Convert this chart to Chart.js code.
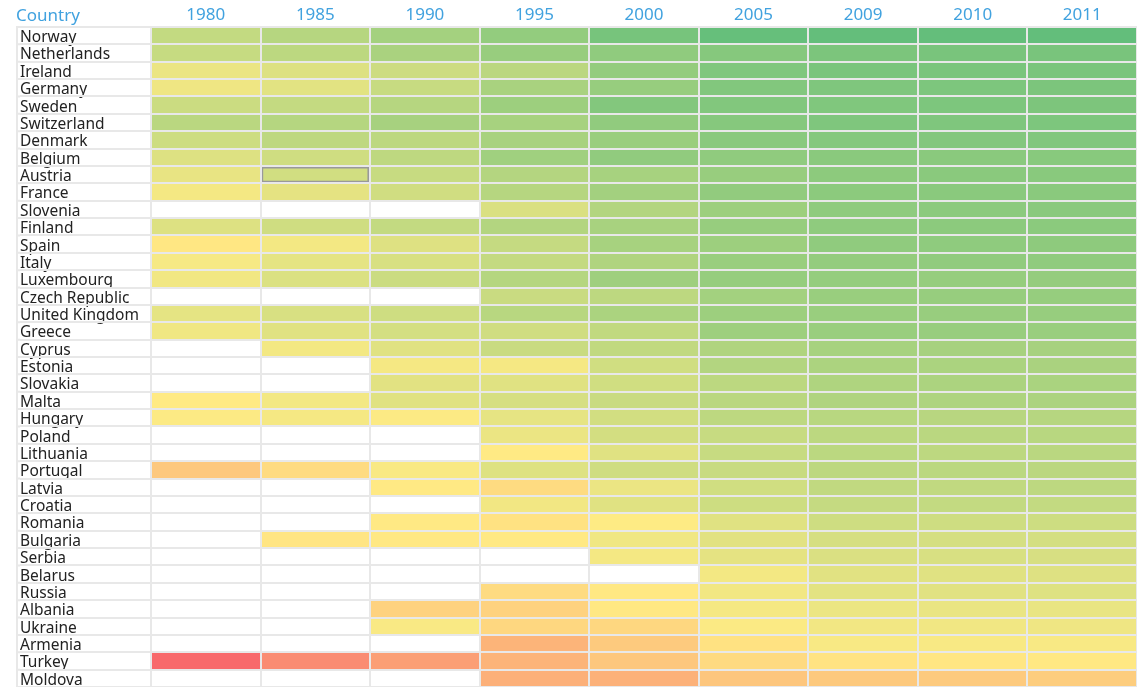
<!DOCTYPE html>
<html>
<head>
<meta charset="utf-8">
<title>HDI heatmap</title>
<script src="https://cdn.jsdelivr.net/npm/chart.js@4.4.0/dist/chart.umd.min.js"></script>
<style>
  html, body { margin: 0; padding: 0; background: #fff; }
  #wrap { width: 1137px; height: 687px; position: relative; }
</style>
</head>
<body>
<div id="wrap"><canvas id="heat"></canvas></div>
<script>
const countries = ['Norway', 'Netherlands', 'Ireland', 'Germany', 'Sweden', 'Switzerland', 'Denmark', 'Belgium',
  'Austria', 'France', 'Slovenia', 'Finland', 'Spain', 'Italy', 'Luxembourg', 'Czech Republic', 'United Kingdom',
  'Greece', 'Cyprus', 'Estonia', 'Slovakia', 'Malta', 'Hungary', 'Poland', 'Lithuania', 'Portugal', 'Latvia',
  'Croatia', 'Romania', 'Bulgaria', 'Serbia', 'Belarus', 'Russia', 'Albania', 'Ukraine', 'Armenia', 'Turkey', 'Moldova'];
const years = ['1980', '1985', '1990', '1995', '2000', '2005', '2009', '2010', '2011'];

// one array per year column, same order as countries (null = no data)
const v1980 = [0.796, 0.792, 0.735, 0.730, 0.785, 0.810, 0.781, 0.757, 0.740, 0.722, null, 0.757, 0.698, 0.718, 0.726, null, 0.744, 0.728, null, null,
  null, 0.704, 0.709, null, null, 0.639, null, null, null, null, null, null, null, null, null, null, 0.463, null];
const v1985 = [0.816, 0.807, 0.757, 0.749, 0.795, 0.818, 0.804, 0.778, 0.775, 0.745, null, 0.778, 0.723, 0.744, 0.760, null, 0.764, 0.753, 0.723, null,
  null, 0.723, 0.721, null, null, 0.675, null, null, null, 0.693, null, null, null, null, null, null, 0.528, null];
const v1990 = [0.844, 0.835, 0.782, 0.790, 0.816, 0.840, 0.806, 0.804, 0.790, 0.777, null, 0.797, 0.756, 0.764, 0.785, null, 0.780, 0.771, 0.753, 0.721,
  0.750, 0.753, 0.710, null, null, 0.714, 0.701, null, 0.702, 0.700, null, null, null, 0.658, 0.714, null, 0.563, null];
const v1995 = [0.870, 0.862, 0.809, 0.836, 0.855, 0.839, 0.837, 0.850, 0.819, 0.816, 0.761, 0.821, 0.793, 0.795, 0.818, 0.787, 0.813, 0.777, 0.787, 0.721,
  0.752, 0.767, 0.743, 0.735, 0.703, 0.755, 0.675, 0.725, 0.688, 0.701, null, null, 0.675, 0.658, 0.667, 0.603, 0.603, 0.595];
const v2000 = [0.913, 0.874, 0.869, 0.864, 0.894, 0.873, 0.859, 0.873, 0.839, 0.846, 0.821, 0.837, 0.839, 0.825, 0.851, 0.806, 0.833, 0.799, 0.800, 0.776,
  0.776, 0.788, 0.774, 0.772, 0.752, 0.778, 0.736, 0.752, 0.706, 0.728, 0.722, null, 0.700, 0.700, 0.668, 0.643, 0.638, 0.597];
const v2005 = [0.938, 0.890, 0.898, 0.895, 0.896, 0.889, 0.885, 0.874, 0.862, 0.872, 0.855, 0.863, 0.855, 0.861, 0.865, 0.845, 0.855, 0.853, 0.826, 0.821,
  0.807, 0.810, 0.805, 0.791, 0.791, 0.789, 0.776, 0.781, 0.753, 0.750, 0.745, 0.723, 0.725, 0.721, 0.711, 0.689, 0.673, 0.636];
const v2009 = [0.941, 0.905, 0.908, 0.900, 0.898, 0.900, 0.891, 0.883, 0.879, 0.880, 0.876, 0.876, 0.874, 0.869, 0.866, 0.861, 0.860, 0.861, 0.839, 0.831,
  0.827, 0.826, 0.813, 0.807, 0.808, 0.805, 0.800, 0.794, 0.779, 0.768, 0.762, 0.751, 0.747, 0.734, 0.725, 0.716, 0.690, 0.642];
const v2010 = [0.941, 0.909, 0.908, 0.903, 0.903, 0.901, 0.893, 0.884, 0.883, 0.883, 0.881, 0.880, 0.876, 0.873, 0.865, 0.863, 0.862, 0.862, 0.840, 0.833,
  0.831, 0.829, 0.814, 0.811, 0.805, 0.808, 0.800, 0.797, 0.779, 0.769, 0.764, 0.753, 0.751, 0.737, 0.726, 0.716, 0.696, 0.644];
const v2011 = [0.943, 0.910, 0.908, 0.905, 0.904, 0.903, 0.895, 0.886, 0.885, 0.884, 0.884, 0.882, 0.878, 0.874, 0.867, 0.865, 0.863, 0.861, 0.840, 0.835,
  0.834, 0.832, 0.816, 0.813, 0.810, 0.809, 0.805, 0.796, 0.781, 0.771, 0.766, 0.756, 0.755, 0.739, 0.729, 0.716, 0.699, 0.649];

const series = [v1980, v1985, v1990, v1995, v2000, v2005, v2009, v2010, v2011];

// red - yellow - green scale like a spreadsheet conditional format
const scaleLo = 0.463, scaleMid = 0.705, scaleHi = 0.943;
const red = [248, 105, 107], yellow = [255, 235, 132], green = [99, 190, 123];

function mix(a, b, t) {
  t = Math.max(0, Math.min(1, t));
  return 'rgb(' + a.map((c, i) => Math.round(c + (b[i] - c) * t)).join(',') + ')';
}

function cellColor(v) {
  if (v == null) return 'rgba(0,0,0,0)';
  if (v <= scaleMid) return mix(red, yellow, (v - scaleLo) / (scaleMid - scaleLo));
  return mix(yellow, green, (v - scaleMid) / (scaleHi - scaleMid));
}

const gridColor = '#e8e8e8';
const headBlue = '#41a2df';
const tableLeft = 16;
Chart.defaults.font.family = '"Noto Sans", "Open Sans", sans-serif';

// the selected cell in the reference has a grey outline
const selected = { year: '1985', country: 'Austria' };

const datasets = years.map((yr, j) => ({
  label: yr,
  data: series[j].map(v => v == null ? null : [j, j + 1]),
  backgroundColor: ctx => cellColor(series[j][ctx.dataIndex]),
  borderColor: '#999',
  borderWidth: ctx => (yr === selected.year && countries[ctx.dataIndex] === selected.country) ? 3 : 0,
  borderSkipped: false,
  grouped: false,
  barPercentage: 1,
  categoryPercentage: 1
}));

// left border of the table, the few px of row lines left of the labels, and the "Country" header
const headerPlugin = {
  id: 'header',
  afterDraw(chart) {
    const { ctx } = chart;
    const y = chart.scales.y;
    const step = (y.bottom - y.top) / countries.length;
    ctx.save();
    ctx.strokeStyle = gridColor;
    ctx.lineWidth = 2;
    ctx.beginPath();
    ctx.moveTo(tableLeft + 1, y.top);
    ctx.lineTo(tableLeft + 1, y.bottom);
    for (let i = 0; i <= countries.length; i++) {
      const py = y.getPixelForValue(i) - step / 2;
      ctx.moveTo(tableLeft, py);
      ctx.lineTo(y.left, py);
    }
    ctx.stroke();
    ctx.fillStyle = headBlue;
    ctx.font = '17px "Noto Sans", "Open Sans", sans-serif';
    ctx.textBaseline = 'alphabetic';
    ctx.textAlign = 'left';
    ctx.fillText('Country', tableLeft, 21);
    ctx.restore();
  }
};

new Chart(document.getElementById('heat'), {
  type: 'bar',
  data: { labels: countries, datasets: datasets },
  plugins: [headerPlugin],
  options: {
    indexAxis: 'y',
    responsive: true,
    maintainAspectRatio: false,
    animation: false,
    layout: { padding: { left: 20, right: 0, top: 0, bottom: 0 } },
    plugins: {
      legend: { display: false },
      tooltip: { enabled: false }
    },
    scales: {
      x: {
        type: 'linear',
        position: 'top',
        min: 0,
        max: years.length,
        afterFit: s => { s.height = 27; s.paddingLeft = 0; s.paddingRight = 0; },
        border: { display: false },
        grid: {
          z: 1,
          drawTicks: false,
          lineWidth: 2,
          color: ctx => (ctx.tick && ctx.tick.value % 1 === 0) ? gridColor : 'rgba(0,0,0,0)'
        },
        ticks: {
          stepSize: 0.5,
          autoSkip: false,
          maxRotation: 0,
          padding: 2,
          color: headBlue,
          font: { size: 17 },
          callback: v => (v % 1 === 0.5) ? years[Math.floor(v)] : ''
        }
      },
      y: {
        type: 'category',
        afterFit: s => { s.width = 131; s.paddingTop = 0; s.paddingBottom = 0; },
        border: { display: false },
        grid: { z: 1, offset: true, color: gridColor, lineWidth: 2, tickLength: 131 },
        ticks: {
          autoSkip: false,
          crossAlign: 'far',
          labelOffset: 2,
          color: '#222',
          font: { size: 15.5 }
        }
      }
    }
  }
});
</script>
</body>
</html>
